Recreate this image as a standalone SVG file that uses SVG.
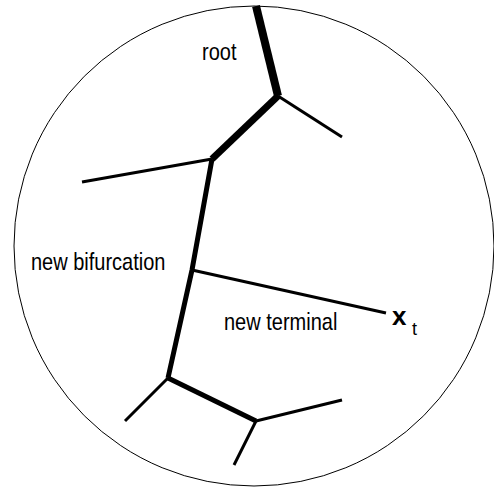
<svg xmlns="http://www.w3.org/2000/svg" width="494" height="487" viewBox="0 0 494 487">
<style>
.lbl{font-family:"Liberation Sans",Arial,sans-serif;font-size:20px;fill:#000}
.seg{stroke:#000;fill:none;stroke-linecap:butt;stroke-linejoin:miter}
.w3{stroke-width:3}
.w5{stroke-width:5}
.w7{stroke-width:7}
.w8{stroke-width:8}
</style>
<rect width="494" height="487" fill="#fff"/>
<circle id="domain" cx="254" cy="246" r="240" fill="none" stroke="#000" stroke-width="1"/>
<g id="connectors">
<line class="seg w8" x1="256" y1="6" x2="278" y2="96"/>
<line class="seg w3" x1="278" y1="96" x2="342" y2="137"/>
<line class="seg w7" x1="278" y1="96" x2="212" y2="159"/>
<line class="seg w3" x1="212" y1="159" x2="82" y2="182"/>
<polyline class="seg w5" points="212,159 192,270 168,378"/>
<line class="seg w3" x1="192" y1="270" x2="386" y2="313"/>
<line class="seg w3" x1="168" y1="378" x2="125" y2="421"/>
<line class="seg w5" x1="168" y1="378" x2="256" y2="421"/>
<line class="seg w3" x1="256" y1="421" x2="342" y2="400"/>
<line class="seg w3" x1="256" y1="421" x2="234" y2="465"/>
</g>
<g id="root"><text class="lbl" transform="translate(202,60) scale(1,1.22)">root</text></g>
<g id="new-bifurcation"><text class="lbl" transform="translate(31,270) scale(1,1.22)">new bifurcation</text></g>
<g id="new-terminal"><text class="lbl" transform="translate(224,330) scale(1,1.22)">new terminal</text></g>
<g id="xt"><text x="392" y="325" font-family="Liberation Sans,Arial,sans-serif" font-weight="bold" font-size="26">x</text><text x="412" y="335" font-family="Liberation Sans,Arial,sans-serif" font-size="18">t</text></g>
</svg>
